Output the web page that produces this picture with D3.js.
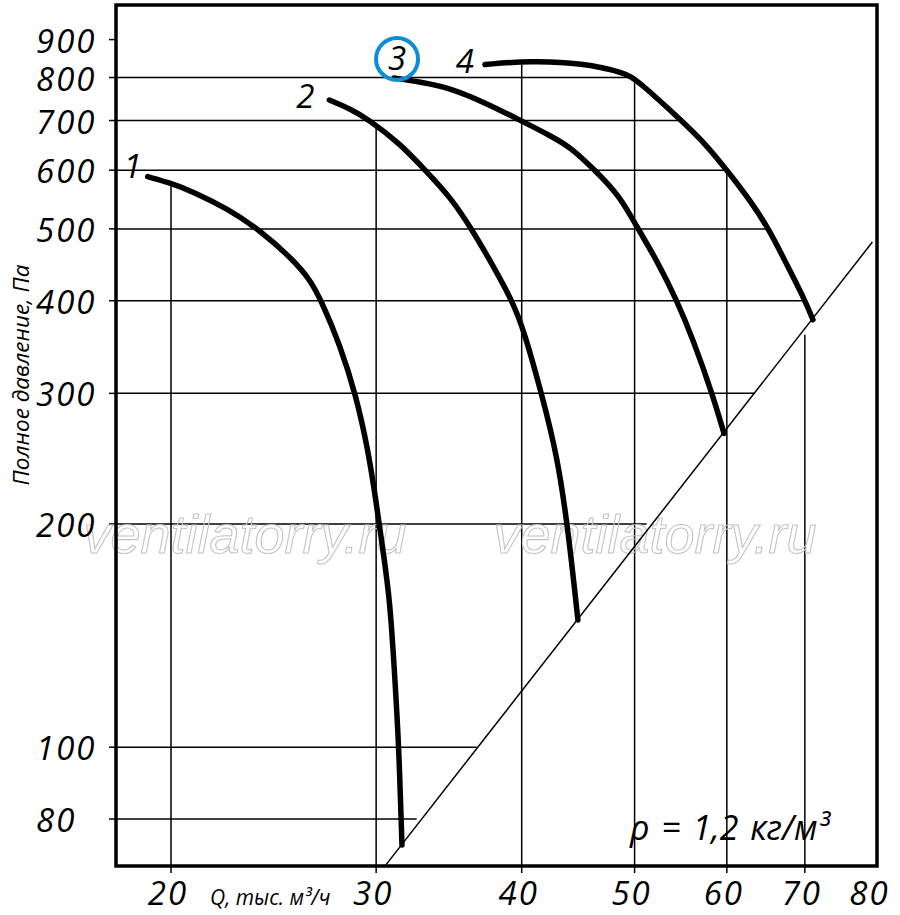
<!DOCTYPE html>
<html>
<head>
<meta charset="utf-8">
<script src="https://cdn.jsdelivr.net/npm/d3@7"></script>
<style>
  html, body { margin: 0; padding: 0; background: #fff; }
  svg text { font-family: 'Open Sans', sans-serif; font-style: italic; fill: #000; }
</style>
</head>
<body>
<svg id="chart" width="900" height="915"></svg>
<script>
'use strict';

// axis ticks
const flowTicks = [20, 30, 40, 50, 60, 70, 80];
const pressureTicks = [80, 100, 200, 300, 400, 500, 600, 700, 800, 900];

// Q where each horizontal grid line stops (null = tick only)
const pressureGridEnds = [32.5, 36.6, 51.2, 63.4, 70, 65.3, 60, 54.7, 50, null];
// P up to which each vertical grid line reaches (null = no line)
const flowGridTops = [573, 684, 837, 800, 600, 360, null];

// fan curves, Q in thousand m3/h, P in Pa
const curveNames = ['1', '2', '3', '4'];
const curve1Q = [19.1, 20.03, 20.9, 22.33, 23.85, 25.47, 26.32, 26.9, 27.93, 28.83, 29.52, 29.99, 30.41, 30.83, 31.14, 31.38, 31.57];
const curve1P = [588, 576, 561, 533, 498, 454, 427, 401, 349, 298, 252, 215, 184, 158, 123, 100, 73.8];
const curve2Q = [27.35, 28.49, 29.52, 31.45, 33.15, 34.71, 36.35, 37.82, 39.22, 40.18, 41.64, 42.89, 43.83, 44.7];
const curve2P = [746, 726, 703, 652, 597, 553, 496, 445, 401, 365, 298, 248, 197.5, 148.4];
const curve3Q = [31.08, 32.71, 34.71, 37.2, 39.71, 42.55, 44.0, 46.39, 48.58, 50.3, 52.23, 54.33, 56.15, 58.37, 59.66];
const curve3P = [799, 789, 775, 740, 703, 665, 645, 597, 553, 501, 454, 401, 354, 298, 265];
const curve4Q = [37.2, 40.66, 45.15, 49.06, 50.24, 55.02, 57.46, 60.01, 62.8, 65.33, 67.04, 70.01, 71.13];
const curve4P = [833, 843, 837, 812, 794, 697, 652, 600, 547, 497, 458, 401, 377];

// system characteristic (straight line on log-log)
const systemQ = [30.5, 80];
const systemP = [69, 480];

const highlighted = '3';
const watermark = 'ventilatorry.ru';

const frame = { left: 116, right: 877, top: 5, bottom: 866 };
// label placement relative to each curve's first point: dx, dy, anchor
const labelOffsets = [[-6, 1, 'end'], [-15, 8, 'end'], [3, -8, 'middle'], [-11, 8, 'end']];

const x = d3.scaleLog().domain([20, 80]).range([171, 872.4]);
const y = d3.scaleLog().domain([80, 900]).range([819, 39.6]);

const svg = d3.select('#chart');

const curves = [
  d3.zip(curve1Q, curve1P),
  d3.zip(curve2Q, curve2P),
  d3.zip(curve3Q, curve3P),
  d3.zip(curve4Q, curve4P),
];

// grid
const grid = svg.append('g').attr('stroke', '#000').attr('stroke-width', 1.5);

grid.selectAll('.h-grid')
  .data(d3.zip(pressureTicks, pressureGridEnds).filter((d) => d[1] !== null))
  .enter()
  .append('line')
  .attr('class', 'h-grid')
  .attr('x1', frame.left)
  .attr('x2', (d) => x(d[1]))
  .attr('y1', (d) => y(d[0]))
  .attr('y2', (d) => y(d[0]));

grid.selectAll('.v-grid')
  .data(d3.zip(flowTicks, flowGridTops).filter((d) => d[1] !== null))
  .enter()
  .append('line')
  .attr('class', 'v-grid')
  .attr('x1', (d) => x(d[0]))
  .attr('x2', (d) => x(d[0]))
  .attr('y1', frame.bottom + 7)
  .attr('y2', (d) => y(d[1]));

grid.selectAll('.y-tick')
  .data(pressureTicks)
  .enter()
  .append('line')
  .attr('class', 'y-tick')
  .attr('x1', frame.left - 7)
  .attr('x2', frame.left)
  .attr('y1', (d) => y(d))
  .attr('y2', (d) => y(d));

// watermark, outline only
svg.append('g')
  .selectAll('text')
  .data([245, 655])
  .enter()
  .append('text')
  .attr('x', (d) => d)
  .attr('y', 553)
  .attr('text-anchor', 'middle')
  .style('font-family', "'Liberation Sans', Arial, sans-serif")
  .style('font-size', '54px')
  .style('fill', 'none')
  .attr('stroke', '#c4c4c4')
  .attr('stroke-width', 1.1)
  .text(watermark);

// system line
const line = d3.line()
  .x((d) => x(d[0]))
  .y((d) => y(d[1]));

svg.append('path')
  .datum(d3.zip(systemQ, systemP))
  .attr('d', line)
  .attr('fill', 'none')
  .attr('stroke', '#000')
  .attr('stroke-width', 1.5);

// fan curves
const curveLine = d3.line()
  .x((d) => x(d[0]))
  .y((d) => y(d[1]))
  .curve(d3.curveBasis);

svg.append('g')
  .selectAll('path')
  .data(curves)
  .enter()
  .append('path')
  .attr('d', curveLine)
  .attr('fill', 'none')
  .attr('stroke', '#000')
  .attr('stroke-width', 5.5)
  .attr('stroke-linecap', 'round');

// frame
svg.append('rect')
  .attr('x', frame.left)
  .attr('y', frame.top)
  .attr('width', frame.right - frame.left)
  .attr('height', frame.bottom - frame.top)
  .attr('fill', 'none')
  .attr('stroke', '#000')
  .attr('stroke-width', 3.5);

// curve labels
curves.forEach((pts, i) => {
  const [dx, dy, anchor] = labelOffsets[i];
  const px = x(pts[0][0]) + dx;
  const py = y(pts[0][1]) + dy;
  if (curveNames[i] === highlighted) {
    svg.append('circle')
      .attr('cx', px)
      .attr('cy', py - 11)
      .attr('r', 21)
      .attr('fill', 'none')
      .attr('stroke', '#0b8ed6')
      .attr('stroke-width', 4);
  }
  svg.append('text')
    .attr('x', px)
    .attr('y', py)
    .attr('text-anchor', anchor)
    .style('font-size', '33px')
    .text(curveNames[i]);
});

// tick labels
svg.append('g')
  .selectAll('text')
  .data(pressureTicks)
  .enter()
  .append('text')
  .attr('x', 36)
  .attr('y', (d) => y(d) + 13)
  .style('font-size', '33px')
  .style('letter-spacing', '2px')
  .text((d) => d);

svg.append('g')
  .selectAll('text')
  .data(flowTicks)
  .enter()
  .append('text')
  .attr('x', (d) => x(d) - 3)
  .attr('y', 905)
  .attr('text-anchor', 'middle')
  .style('font-size', '33px')
  .style('letter-spacing', '2px')
  .text((d) => d);

// axis titles
svg.append('text')
  .attr('transform', 'translate(29,375) rotate(-90)')
  .attr('text-anchor', 'middle')
  .style('font-size', '22.5px')
  .text('Полное давление, Па');

svg.append('text')
  .attr('x', 210)
  .attr('y', 905)
  .style('font-size', '21px')
  .text('Q, тыс. м³/ч');

svg.append('text')
  .attr('x', 630)
  .attr('y', 840)
  .style('font-size', '34px')
  .style('word-spacing', '3px')
  .text('ρ = 1,2 кг/м³');
</script>
</body>
</html>
